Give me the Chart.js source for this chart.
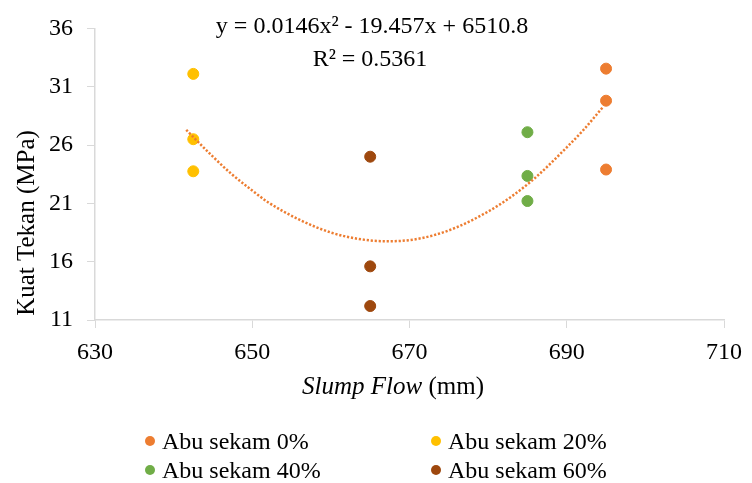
<!DOCTYPE html>
<html>
<head>
<meta charset="utf-8">
<script src="https://cdn.jsdelivr.net/npm/chart.js@4"></script>
<style>
  html, body { margin: 0; padding: 0; background: #fff; }
  #wrap { width: 752px; height: 483px; }
</style>
</head>
<body>
<div id="wrap"><canvas id="chart" width="752" height="483"></canvas></div>
<script>
// Data
const seriesNames = ['Abu sekam 0%', 'Abu sekam 20%', 'Abu sekam 40%', 'Abu sekam 60%'];
const seriesColors = ['#ED7D31', '#FFC000', '#70AD47', '#9E480E'];

const flow0 = [695, 695, 695];
const strength0 = [32.55, 29.8, 23.9];
const flow20 = [642.5, 642.5, 642.5];
const strength20 = [32.1, 26.5, 23.75];
const flow40 = [685, 685, 685];
const strength40 = [27.1, 23.35, 21.2];
const flow60 = [665, 665, 665];
const strength60 = [25.0, 15.6, 12.2];

// dotted polynomial trendline
const trendX = [641.6, 645, 647.4, 650, 652, 656, 660, 664, 667, 670, 673, 676, 680, 683, 686, 690, 692, 694.6];
const trendY = [27.3, 25.0, 23.5, 22.1, 21.1, 19.6, 18.5, 17.9, 17.75, 17.85, 18.25, 18.95, 20.3, 21.6, 23.2, 25.8, 27.2, 29.25];

const xTicks = [630, 650, 670, 690, 710];
const yTicks = [11, 16, 21, 26, 31, 36];

const equation = 'y = 0.0146x² - 19.457x + 6510.8';
const rSquared = 'R² = 0.5361';

function pairs(xs, ys) {
    return xs.map((x, i) => ({ x: x, y: ys[i] }));
}

const flows = [flow0, flow20, flow40, flow60];
const strengths = [strength0, strength20, strength40, strength60];

const datasets = [{
    type: 'line',
    label: 'Trend',
    data: pairs(trendX, trendY),
    borderColor: '#ED7D31',
    borderWidth: 2.5,
    borderDash: [2.2, 1.8],
    borderCapStyle: 'butt',
    pointRadius: 0,
    cubicInterpolationMode: 'monotone',
    fill: false,
    order: 0
}];
seriesNames.forEach((name, i) => {
    datasets.push({
        label: name,
        data: pairs(flows[i], strengths[i]),
        backgroundColor: seriesColors[i],
        borderColor: seriesColors[i],
        borderWidth: 1,
        pointRadius: 5.5,
        order: 1
    });
});

const serif = '"Liberation Serif", "Times New Roman", serif';
const axisColor = '#D9D9D9';

// texts that chart.js can't place the way the picture does
const extrasPlugin = {
    id: 'extras',
    afterDraw(chart) {
        const ctx = chart.ctx;
        ctx.save();
        ctx.fillStyle = '#000';
        ctx.textBaseline = 'alphabetic';

        // equation + R²
        ctx.font = '24px ' + serif;
        ctx.textAlign = 'center';
        ctx.fillText(equation, 372, 33);
        ctx.fillText(rSquared, 370, 66);

        // y axis title
        ctx.save();
        ctx.translate(34, 223);
        ctx.rotate(-Math.PI / 2);
        ctx.font = '25px ' + serif;
        ctx.fillText('Kuat Tekan (MPa)', 0, 0);
        ctx.restore();

        // x axis title, "Slump Flow" in italic
        ctx.textAlign = 'left';
        ctx.font = 'italic 25px ' + serif;
        const part1 = 'Slump Flow';
        const w1 = ctx.measureText(part1).width;
        ctx.font = '25px ' + serif;
        const part2 = ' (mm)';
        const w2 = ctx.measureText(part2).width;
        let x0 = 393 - (w1 + w2) / 2;
        ctx.font = 'italic 25px ' + serif;
        ctx.fillText(part1, x0, 394);
        ctx.font = '25px ' + serif;
        ctx.fillText(part2, x0 + w1, 394);

        // legend, two columns
        const cols = [150, 436];
        const rows = [441, 470];
        ctx.font = '24px ' + serif;
        seriesNames.forEach((name, i) => {
            const cx = cols[i % 2];
            const cy = rows[Math.floor(i / 2)];
            ctx.beginPath();
            ctx.arc(cx, cy, 5, 0, Math.PI * 2);
            ctx.fillStyle = seriesColors[i];
            ctx.fill();
            ctx.fillStyle = '#000';
            ctx.fillText(name, cx + 12, cy + 7.5);
        });
        ctx.restore();
    }
};

new Chart(document.getElementById('chart'), {
    type: 'scatter',
    data: { datasets: datasets },
    options: {
        responsive: false,
        animation: false,
        layout: { padding: { top: 23, right: 23, left: 0, bottom: 0 } },
        plugins: {
            legend: { display: false },
            tooltip: { enabled: false }
        },
        scales: {
            x: {
                type: 'linear',
                min: 630,
                max: 710,
                afterBuildTicks: (scale) => { scale.ticks = xTicks.map(v => ({ value: v })); },
                afterFit: (scale) => { scale.height = 163; },
                grid: { drawOnChartArea: false, drawTicks: true, tickLength: 8, color: axisColor },
                border: { color: axisColor, width: 1.5 },
                ticks: { color: '#000', font: { family: serif, size: 24 }, padding: 10 }
            },
            y: {
                type: 'linear',
                min: 11,
                max: 36,
                afterBuildTicks: (scale) => { scale.ticks = yTicks.map(v => ({ value: v })); },
                afterFit: (scale) => { scale.width = 95; },
                grid: { drawOnChartArea: false, drawTicks: true, tickLength: 8, color: axisColor },
                border: { color: axisColor, width: 1.5 },
                ticks: { color: '#000', font: { family: serif, size: 24 }, padding: 14 }
            }
        }
    },
    plugins: [extrasPlugin]
});
</script>
</body>
</html>
